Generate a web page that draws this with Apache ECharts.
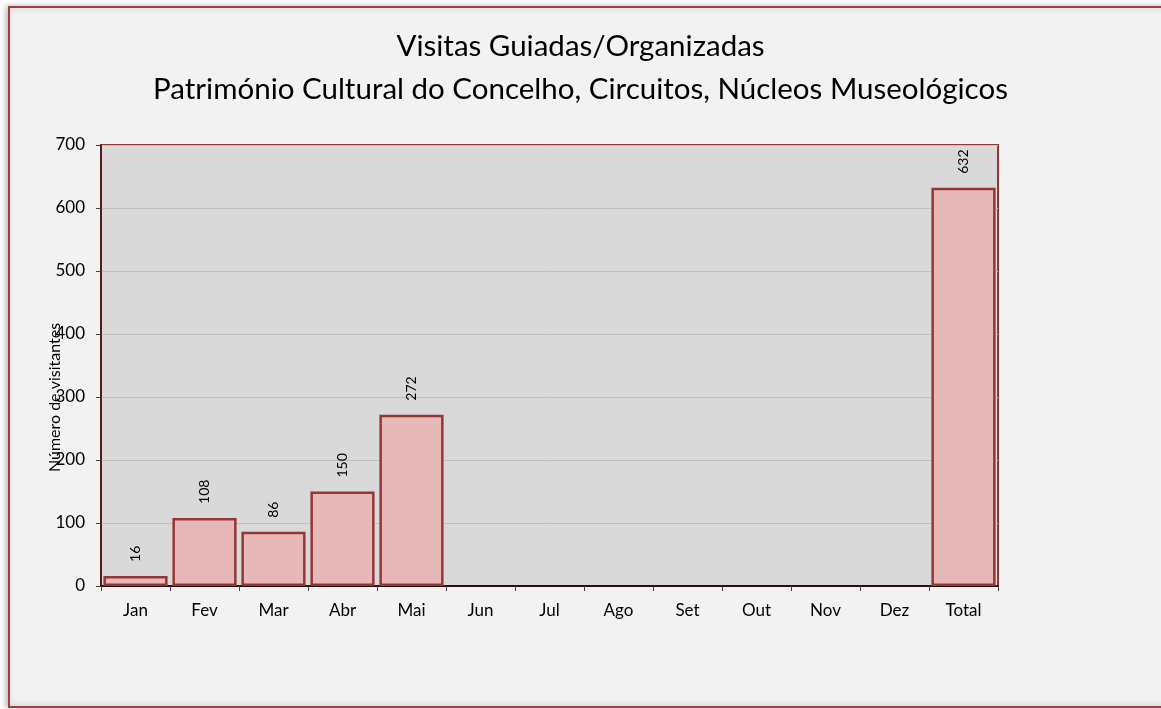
<!DOCTYPE html>
<html>
<head>
<meta charset="utf-8">
<script src="https://cdn.jsdelivr.net/npm/echarts@6/dist/echarts.min.js"></script>
<style>
  html, body { margin: 0; padding: 0; background: #ffffff; }
  #main { width: 1161px; height: 709px; }
</style>
</head>
<body>
<div id="main"></div>
<script>
// categorias e valores
const meses = ['Jan', 'Fev', 'Mar', 'Abr', 'Mai', 'Jun', 'Jul', 'Ago', 'Set', 'Out', 'Nov', 'Dez', 'Total'];
const visitantes = [16, 108, 86, 150, 272, null, null, null, null, null, null, null, 632];
const titulo = 'Visitas Guiadas/Organizadas\nPatrimónio Cultural do Concelho, Circuitos, Núcleos Museológicos';

const chart = echarts.init(document.getElementById('main'), null, { renderer: 'canvas' });

const option = {
  backgroundColor: '#ffffff',
  animation: false,
  textStyle: { fontFamily: 'Lato' },
  graphic: [{
    type: 'rect',
    z: -10,
    shape: { x: 9, y: 7, width: 1200, height: 700 },
    style: {
      fill: '#f2f2f2',
      stroke: '#a0403f',
      lineWidth: 2,
      shadowBlur: 6,
      shadowColor: 'rgba(0,0,0,0.25)',
      shadowOffsetX: -2
    }
  }],
  title: {
    text: titulo,
    left: 'center',
    top: 20,
    textStyle: {
      fontFamily: 'Lato',
      fontSize: 29.5,
      fontWeight: 'normal',
      color: '#000',
      lineHeight: 43
    }
  },
  grid: {
    left: 101,
    right: 163,
    top: 145,
    bottom: 123,
    show: true,
    backgroundColor: '#d9d9d9',
    borderColor: '#953735',
    borderWidth: 2
  },
  xAxis: {
    type: 'category',
    data: meses,
    axisLine: { lineStyle: { color: '#2a1010', width: 2 } },
    axisTick: { show: true, length: 5, lineStyle: { color: '#404040' } },
    axisLabel: { color: '#000', fontSize: 17, margin: 16 }
  },
  yAxis: {
    type: 'value',
    min: 0,
    max: 700,
    interval: 100,
    name: 'Número de visitantes',
    nameLocation: 'middle',
    nameGap: 38,
    nameMoveOverlap: false,
    nameTextStyle: { color: '#000', fontSize: 16, padding: [0, 64, 0, 0] },
    axisLine: { show: true, lineStyle: { color: '#5a1a1a', width: 2 } },
    axisTick: { show: true, length: 5, lineStyle: { color: '#404040' } },
    axisLabel: { color: '#000', fontSize: 17, margin: 16 },
    splitLine: { lineStyle: { color: '#bfbfbf', width: 1 } }
  },
  series: [{
    type: 'bar',
    data: visitantes,
    barCategoryGap: '7%',
    itemStyle: {
      color: '#e6b9b8',
      borderColor: '#953735',
      borderWidth: 2.5
    },
    label: {
      show: true,
      position: 'top',
      rotate: 90,
      align: 'left',
      verticalAlign: 'middle',
      distance: 14,
      color: '#000',
      fontSize: 14
    }
  }]
};

chart.setOption(option);
</script>
</body>
</html>
